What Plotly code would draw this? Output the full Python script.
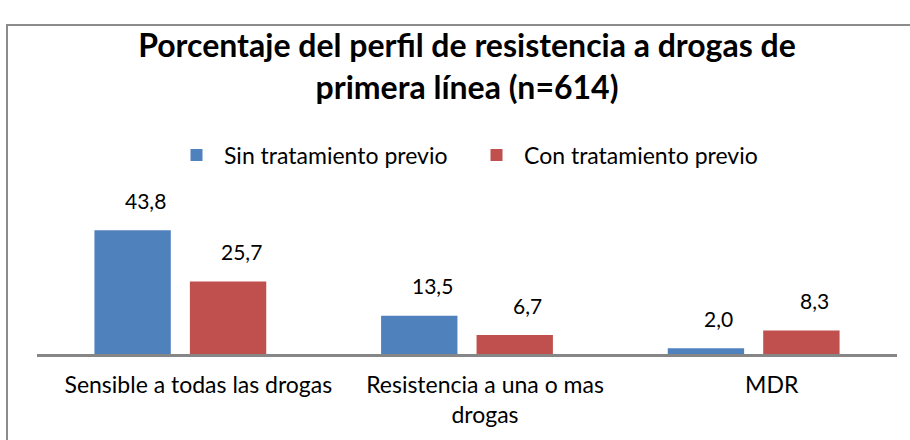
import plotly.graph_objects as go

categories = ["Sensible a todas las drogas", "Resistencia a una o mas<br>drogas", "MDR"]
series_names = ["Sin tratamiento previo", "Con tratamiento previo"]
sin_tratamiento = [43.8, 13.5, 2.0]
con_tratamiento = [25.7, 6.7, 8.3]
colors = ["#4F81BD", "#C0504D"]

FONT = "Lato, sans-serif"

W, H = 910, 440
ML, MR, MT, MB = 37, 13, 180, 86
plot_w = W - ML - MR
plot_h = H - MT - MB
ymax = 58.6

fig = go.Figure()
for name, vals, col in zip(series_names, [sin_tratamiento, con_tratamiento], colors):
    fig.add_trace(go.Bar(name=name, x=categories, y=vals, marker_color=col,
                         marker_line_width=0))

# data labels
cat_w = plot_w / len(categories)
slot = cat_w * (1 - 0.334) / 2
for i, vals in enumerate([sin_tratamiento, con_tratamiento]):
    off = (i - 0.5) * slot + 13
    for c, v in zip(categories, vals):
        fig.add_annotation(x=c, y=v, xref="x", yref="y", text=f"{v:.1f}".replace(".", ","),
                           showarrow=False, xshift=off, yshift=30, yanchor="middle",
                           font=dict(family=FONT, size=21, color="#000000"))

def px2paper_x(px):
    return (px - ML) / plot_w

def px2paper_y(py):
    return (H - MB - py) / plot_h

fig.add_shape(type="rect", xref="paper", yref="paper",
              x0=px2paper_x(7), x1=px2paper_x(940), y0=px2paper_y(470), y1=px2paper_y(8),
              line=dict(color="#8C8C8C", width=2), fillcolor="rgba(0,0,0,0)", layer="below")

fig.update_layout(
    width=W, height=H,
    margin=dict(l=ML, r=MR, t=MT, b=MB),
    paper_bgcolor="white", plot_bgcolor="white",
    font=dict(family=FONT, size=23, color="#000000"),
    title=dict(text="<b>Porcentaje del perfil de resistencia a drogas de<br>primera línea (n=614)</b>",
               x=0.5, xref="paper", xanchor="center",
               y=1 - 57 / H, yref="container", yanchor="middle",
               font=dict(family=FONT, size=32, color="#000000")),
    barmode="group", bargap=0.334, bargroupgap=0.2,
    showlegend=True,
    legend=dict(orientation="h", x=px2paper_x(469), xanchor="center",
                yref="container", y=1 - 155 / H, yanchor="middle",
                entrywidth=240, entrywidthmode="pixels", itemwidth=45,
                font=dict(family=FONT, size=23), itemclick=False),
    xaxis=dict(showline=True, linecolor="#868686", linewidth=2.5, ticks="",
               showgrid=False, tickfont=dict(family=FONT, size=23),
               ticklabelshift=18, ticklabelstandoff=9),
    yaxis=dict(visible=False, range=[0, ymax], showgrid=False, zeroline=False),
)

fig.write_html("out.html", config={"displayModeBar": False},
               post_script="document.body.style.margin='0';document.body.style.overflow='hidden';")
